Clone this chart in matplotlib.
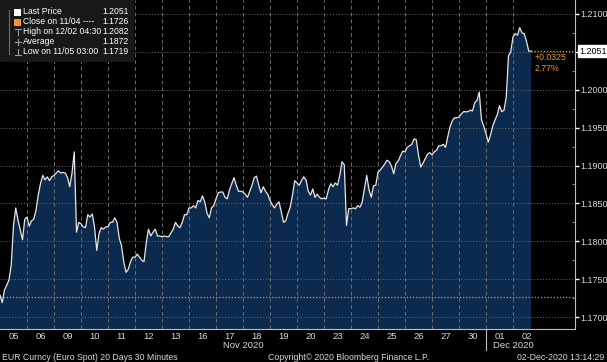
import matplotlib.pyplot as plt
import matplotlib.transforms as mtransforms
import numpy as np

plt.rcParams['font.family'] = ['Liberation Sans', 'DejaVu Sans']

# EUR spot, 2-hour bars (12 per trading day)
bars_per_day = 12
price = [
    1.1729, 1.1719, 1.1736, 1.1742, 1.1749, 1.1769, 1.1821, 1.1844, 1.1828, 1.1815, 1.1802, 1.1829,
    1.1832, 1.1820, 1.1827, 1.1829, 1.1841, 1.1861, 1.1876, 1.1887, 1.1881, 1.1885, 1.1880, 1.1885,
    1.1887, 1.1890, 1.1893, 1.1890, 1.1891, 1.1890, 1.1884, 1.1872, 1.1890, 1.1918, 1.1812, 1.1825,
    1.1823, 1.1819, 1.1818, 1.1835, 1.1832, 1.1836, 1.1819, 1.1788, 1.1810, 1.1818, 1.1816, 1.1819,
    1.1819, 1.1825, 1.1825, 1.1831, 1.1825, 1.1804, 1.1794, 1.1773, 1.1759, 1.1763, 1.1773, 1.1779,
    1.1779, 1.1783, 1.1779, 1.1775, 1.1773, 1.1798, 1.1816, 1.1807, 1.1812, 1.1816, 1.1807, 1.1807,
    1.1806, 1.1807, 1.1806, 1.1806, 1.1811, 1.1816, 1.1825, 1.1820, 1.1818, 1.1825, 1.1835, 1.1835,
    1.1844, 1.1844, 1.1847, 1.1844, 1.1854, 1.1852, 1.1860, 1.1852, 1.1837, 1.1831, 1.1844, 1.1847,
    1.1856, 1.1864, 1.1865, 1.1865, 1.1858, 1.1856, 1.1868, 1.1876, 1.1884, 1.1874, 1.1866, 1.1866,
    1.1865, 1.1862, 1.1858, 1.1866, 1.1874, 1.1884, 1.1886, 1.1874, 1.1864, 1.1872, 1.1866, 1.1862,
    1.1854, 1.1848, 1.1844, 1.1849, 1.1852, 1.1839, 1.1825, 1.1827, 1.1837, 1.1845, 1.1861, 1.1880,
    1.1877, 1.1874, 1.1880, 1.1885, 1.1881, 1.1866, 1.1861, 1.1869, 1.1858, 1.1862, 1.1858, 1.1856,
    1.1857, 1.1856, 1.1868, 1.1876, 1.1872, 1.1877, 1.1874, 1.1887, 1.1905, 1.1901, 1.1821, 1.1843,
    1.1843, 1.1844, 1.1843, 1.1847, 1.1845, 1.1852, 1.1870, 1.1887, 1.1868, 1.1858, 1.1873, 1.1874,
    1.1891, 1.1894, 1.1898, 1.1902, 1.1907, 1.1905, 1.1899, 1.1889, 1.1903, 1.1906, 1.1913, 1.1919,
    1.1918, 1.1924, 1.1926, 1.1928, 1.1935, 1.1934, 1.1914, 1.1898, 1.1903, 1.1909, 1.1915, 1.1917,
    1.1914, 1.1918, 1.1920, 1.1926, 1.1926, 1.1928, 1.1924, 1.1938, 1.1951, 1.1959, 1.1963, 1.1963,
    1.1964, 1.1968, 1.1971, 1.1971, 1.1971, 1.1973, 1.1972, 1.1983, 1.1986, 1.1997, 1.1960, 1.1952,
    1.1942, 1.1931, 1.1940, 1.1952, 1.1960, 1.1967, 1.1979, 1.1971, 1.1973, 1.1990, 1.2045, 1.2050,
    1.2070, 1.2074, 1.2072, 1.2082, 1.2075, 1.2074, 1.2064, 1.2051, 1.2051,
]
day_labels = ['05', '06', '09', '10', '11', '12', '13', '16', '17', '18',
              '19', '20', '23', '24', '25', '26', '27', '30', '01', '02']
month_labels = ['Nov 2020', 'Dec 2020']
month_pos = [9, 19]
month_start = 18

close_prev = 1.1726
close_label = '11/04'
high_label = '12/02 04:30'
low_label = '11/05 03:00'
avg_price = 1.1872
y_ticks = [1.1700, 1.1750, 1.1800, 1.1850, 1.1900, 1.1950, 1.2000, 1.2050, 1.2100]

fill_col = '#0c2a4e'
grid_col = '#6a6a6a'
text_col = '#d8d8d8'
orange = '#f0962a'

x = np.arange(len(price)) / bars_per_day
last = price[-1]
change = last - close_prev
pct = change / close_prev * 100

fig = plt.figure(figsize=(6.07, 3.62), dpi=100, facecolor='black')
ax = fig.add_axes([0, 33 / 362, 575 / 607, 329 / 362], facecolor='black')

ax.fill_between(x, price, 1.0, color=fill_col, lw=0, zorder=1)
for yt in y_ticks:
    ax.axhline(yt, color=grid_col, lw=0.7, ls=(0, (1, 2)), zorder=2)
for d in range(1, len(day_labels)):
    ax.axvline(d, color=grid_col, lw=0.7, ls=(0, (4, 3)), zorder=2)
ax.axhline(close_prev, color=orange, lw=0.9, ls=(0, (1, 1.5)), zorder=3)
ax.plot(x, price, color='#e6e6e6', lw=0.9, zorder=4)
ax.hlines(last, x[-1], 30, color=orange, lw=0.9, ls=(0, (1, 1.5)), zorder=3)

ax.set_xlim(0, 575 / 27)
ax.set_ylim(1.168417, 1.211848)

for s in ['top', 'left']:
    ax.spines[s].set_visible(False)
ax.spines['right'].set_color('#bdbdbd')
ax.spines['bottom'].set_color('#bdbdbd')

# the last-price tag sits where the 1.2050 label would be
tick_text = ['' if abs(v - last) < 0.001 else '%.4f' % v for v in y_ticks]
ax.yaxis.tick_right()
ax.set_yticks(y_ticks)
ax.set_yticklabels(tick_text)
ax.set_yticks(np.array(y_ticks[:-1]) + 0.0025, minor=True)
ax.tick_params(axis='y', which='major', colors='white', labelcolor=text_col,
               labelsize=6.5, length=3, width=1, pad=1)
ax.tick_params(axis='y', which='minor', colors='#9a9a9a', length=2, direction='in')

ax.set_xticks(np.arange(len(day_labels)) + 0.5)
ax.set_xticklabels(day_labels)
ax.tick_params(axis='x', length=0, labelcolor=text_col, labelsize=6.8, pad=2)

trans = mtransforms.blended_transform_factory(ax.transData, ax.transAxes)
for lab, pos in zip(month_labels, month_pos):
    ax.text(pos, -17 / 329, lab, transform=trans, ha='center', va='center',
            color=text_col, fontsize=6.8)
ax.plot([month_start, month_start], [0, -21 / 329], transform=trans,
        color='#bdbdbd', lw=0.8, clip_on=False)

# last price tag and change
ax.annotate('%.4f' % last, xy=(1.0, last), xycoords=('axes fraction', 'data'),
            xytext=(3, 0), textcoords='offset points', ha='left', va='center',
            fontsize=6.5, color='black', zorder=10,
            bbox=dict(boxstyle='square,pad=0.15', fc='white', ec='white'))
ax.text(x[-1] + 0.15, last - 0.0003, '%+.4f' % change, color=orange, fontsize=6.3,
        va='top', ha='left', zorder=5)
ax.text(x[-1] + 0.15, last - 0.0017, '%.2f%%' % pct, color=orange, fontsize=6.3,
        va='top', ha='left', zorder=5)

# legend box
leg = fig.add_axes([0, 1 - 62 / 362, 134 / 607, 62 / 362])
leg.set_xlim(0, 134)
leg.set_ylim(62, 0)
leg.axis('off')
leg.add_patch(plt.Rectangle((0, 0), 134, 62, fc='#181818', ec='none'))
rows = [
    ('Last Price', '%.4f' % last),
    ('Close on %s ----' % close_label, '%.4f' % close_prev),
    ('High on %s' % high_label, '%.4f' % max(price)),
    ('Average', '%.4f' % avg_price),
    ('Low on %s' % low_label, '%.4f' % min(price)),
]
row_y = [12, 22, 32, 42, 52]
leg.plot([9, 9], [10, 54], color='#707070', lw=0.8)
leg.add_patch(plt.Rectangle((14, 8.5), 7, 7, fc='white', ec='none'))
leg.add_patch(plt.Rectangle((14, 18.5), 7, 7, fc=orange, ec='none'))
leg.plot([14.5, 20.5], [29, 29], color='#9a9a9a', lw=0.8)
leg.plot([17.5, 17.5], [29, 35], color='#9a9a9a', lw=0.8)
leg.plot([14.5, 20.5], [42, 42], color='#9a9a9a', lw=0.8)
leg.plot([17.5, 17.5], [39, 45], color='#9a9a9a', lw=0.8)
leg.plot([14.5, 20.5], [55, 55], color='#9a9a9a', lw=0.8)
leg.plot([17.5, 17.5], [49, 55], color='#9a9a9a', lw=0.8)
for (name, val), yy in zip(rows, row_y):
    leg.text(23, yy, name, color='white', fontsize=6.2, va='center', ha='left')
    leg.text(129, yy, val, color='white', fontsize=6.2, va='center', ha='right')

# footer
fig.text(2 / 607, 5 / 362, 'EUR Curncy (Euro Spot) 20 Days 30 Minutes',
         color=text_col, fontsize=6.3, ha='left', va='center')
fig.text(268 / 607, 5 / 362, 'Copyright\u00a9 2020 Bloomberg Finance L.P.',
         color=text_col, fontsize=6.3, ha='left', va='center')
fig.text(604 / 607, 5 / 362, '02-Dec-2020 13:14:29',
         color=text_col, fontsize=6.3, ha='right', va='center')

fig.savefig('out.png', dpi=100, facecolor='black')
